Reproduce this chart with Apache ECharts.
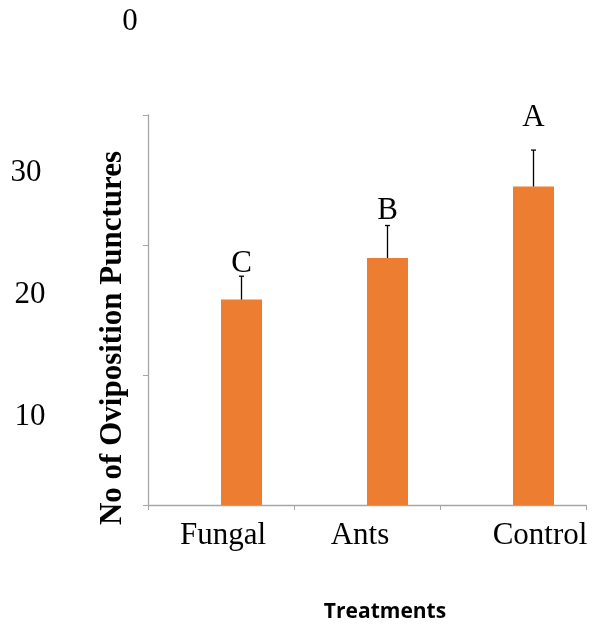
<!DOCTYPE html>
<html>
<head>
<meta charset="utf-8">
<script src="https://cdn.jsdelivr.net/npm/echarts@6/dist/echarts.min.js"></script>
<style>
  html, body { margin: 0; padding: 0; background: #fff; }
  #chart { width: 592px; height: 624px; }
</style>
</head>
<body>
<div id="chart"></div>
<script>
// Oviposition punctures per treatment (mean, mean + SE) with significance letters
const treatments = ['Fungal', 'Ants', 'Control'];
const meanPunctures = [15.8, 19.0, 24.5];
const upperError = [17.6, 21.5, 27.3];
const sigLetters = ['C', 'B', 'A'];
const yTickLabels = ['0', '30', '20', '10'];

const serif = '"Liberation Serif", "Times New Roman", serif';
const barW = 41;
// pixel lift of each significance letter above its error cap
const letterLift = [12, 15, 32];
// horizontal nudge of each category label (px)
const labelNudge = [2, -7, 27];

const chart = echarts.init(document.getElementById('chart'));

const richStyles = {};
treatments.forEach((t, i) => {
  const n = labelNudge[i];
  richStyles['l' + i] = {
    fontFamily: serif, fontSize: 31, color: '#000',
    padding: n >= 0 ? [0, 0, 0, 2 * n] : [0, -2 * n, 0, 0]
  };
});

chart.setOption({
  animation: false,
  grid: { left: 148, top: 115, right: 6, bottom: 119, containLabel: false },
  xAxis: {
    type: 'category',
    data: treatments,
    axisLine: { lineStyle: { color: '#A6A6A6', width: 1.3 } },
    axisTick: { show: true, length: 5, lineStyle: { color: '#A6A6A6' } },
    axisLabel: {
      margin: 15,
      formatter: (v, i) => '{l' + i + '|' + v + '}',
      rich: richStyles
    }
  },
  yAxis: {
    type: 'value',
    min: 0, max: 30, interval: 10,
    axisLine: { show: true, lineStyle: { color: '#A6A6A6', width: 1.3 } },
    axisTick: { show: true, length: 5, lineStyle: { color: '#A6A6A6' } },
    axisLabel: { show: false },
    splitLine: { show: false }
  },
  series: [
    {
      // empty companion series; keeps each bar right of its category centre
      type: 'bar',
      data: treatments.map(() => null),
      barWidth: barW,
      barGap: '0%'
    },
    {
      type: 'bar',
      data: meanPunctures,
      barWidth: barW,
      barGap: '0%',
      itemStyle: { color: '#ED7D31' }
    },
    {
      type: 'custom',
      data: upperError.map((u, i) => [i, meanPunctures[i], u]),
      renderItem: (params, api) => {
        const i = api.value(0);
        const base = api.coord([i, api.value(1)]);
        const top = api.coord([i, api.value(2)]);
        const x = base[0] + barW / 2;
        return {
          type: 'group',
          children: [
            { type: 'line', shape: { x1: x, y1: base[1], x2: x, y2: top[1] },
              style: { stroke: '#000', lineWidth: 1.3 } },
            { type: 'line', shape: { x1: x - 2.5, y1: top[1], x2: x + 2.5, y2: top[1] },
              style: { stroke: '#000', lineWidth: 1.3 } },
            { type: 'text', x: x, y: top[1] - letterLift[i],
              style: { text: sigLetters[i], fontFamily: serif, fontSize: 31, fill: '#000',
                       align: 'center', verticalAlign: 'middle' } }
          ]
        };
      },
      z: 5
    }
  ],
  graphic: [
    { type: 'text', x: 130, y: 22, style: { text: yTickLabels[0], fontFamily: serif, fontSize: 31, fill: '#000', align: 'center', verticalAlign: 'middle' } },
    { type: 'text', x: 26, y: 173, style: { text: yTickLabels[1], fontFamily: serif, fontSize: 31, fill: '#000', align: 'center', verticalAlign: 'middle' } },
    { type: 'text', x: 30, y: 295, style: { text: yTickLabels[2], fontFamily: serif, fontSize: 31, fill: '#000', align: 'center', verticalAlign: 'middle' } },
    { type: 'text', x: 30, y: 417, style: { text: yTickLabels[3], fontFamily: serif, fontSize: 31, fill: '#000', align: 'center', verticalAlign: 'middle' } },
    { type: 'text', x: 113, y: 338, rotation: Math.PI / 2,
      style: { text: 'No of Oviposition Punctures', fontFamily: serif, fontWeight: 'bold', fontSize: 31, fill: '#000', align: 'center', verticalAlign: 'middle' } },
    { type: 'text', x: 385, y: 612,
      style: { text: 'Treatments', fontFamily: '"Open Sans", sans-serif', fontWeight: 'bold', fontSize: 21, fill: '#000', align: 'center', verticalAlign: 'middle' } }
  ]
});
</script>
</body>
</html>
